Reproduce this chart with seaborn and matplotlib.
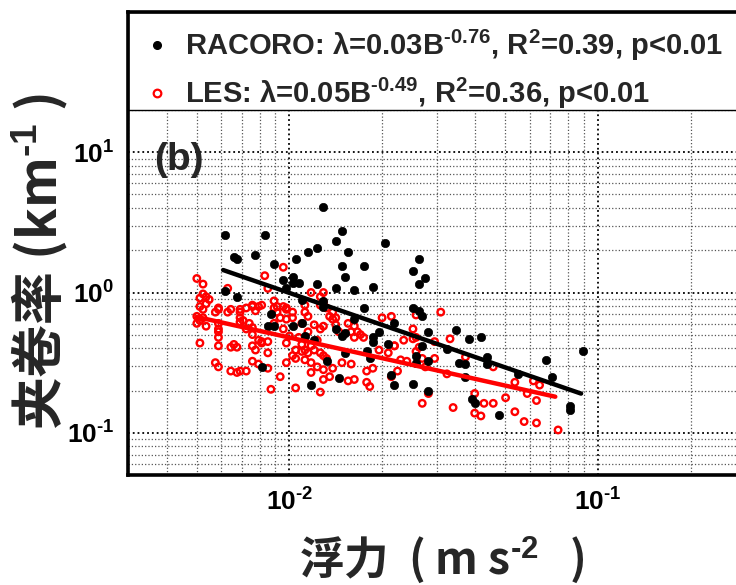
import numpy as np
import pandas as pd
import matplotlib
matplotlib.use("Agg")
import matplotlib.pyplot as plt
import seaborn as sns
from matplotlib.lines import Line2D
from matplotlib.patches import Rectangle
from matplotlib.ticker import LogLocator, NullFormatter

# ---------------- data (log10 of values) ----------------
racoro_log_b = [-1.89, -2.21, -2.08, -1.83, -1.85, -1.91, -1.94, -1.69, -1.81, -2.11,
                -2.18, -2.17, -1.98, -2.05, -1.83, -1.76, -1.58, -1.60, -1.56, -1.58,
                -1.82, -2.02, -1.99, -1.99, -1.97, -2.01, -1.91, -1.85, -1.79, -1.73,
                -2.21, -2.17, -1.96, -1.89, -1.89, -1.76, -1.60, -1.58, -1.57, -2.06,
                -1.79, -2.07, -2.05, -1.99, -1.96, -1.66, -1.85, -1.82, -1.83, -1.71,
                -1.73, -1.73, -1.95, -1.92, -1.68, -1.55, -1.46, -1.42, -1.38, -1.57,
                -1.49, -1.82, -1.75, -1.74, -1.59, -1.59, -1.55, -1.45, -1.43, -1.36,
                -1.36, -1.17, -1.05, -1.26, -1.15, -1.43, -1.88, -2.09, -1.84, -1.93,
                -1.67, -1.66, -1.60, -1.55, -1.41, -1.40, -1.32, -1.09, -1.09]
racoro_log_lam = [0.61, 0.41, 0.41, 0.44, 0.37, 0.32, 0.29, 0.35, 0.29, 0.27,
                  0.25, 0.24, 0.24, 0.20, 0.19, 0.19, 0.24, 0.15, 0.10, 0.06,
                  0.11, 0.09, 0.11, 0.07, 0.07, 0.03, 0.06, 0.03, 0.02, 0.04,
                  0.01, -0.03, -0.05, -0.06, -0.10, -0.11, -0.11, -0.13, -0.17, -0.15,
                  -0.19, -0.24, -0.24, -0.24, -0.22, -0.22, -0.26, -0.29, -0.31, -0.28,
                  -0.32, -0.35, -0.31, -0.34, -0.37, -0.28, -0.27, -0.33, -0.32, -0.38,
                  -0.40, -0.43, -0.42, -0.47, -0.45, -0.50, -0.49, -0.50, -0.51, -0.46,
                  -0.51, -0.48, -0.42, -0.58, -0.60, -0.60, -0.49, -0.53, -0.61, -0.66,
                  -0.59, -0.66, -0.65, -0.70, -0.76, -0.79, -0.87, -0.81, -0.84]

les_log_b = [-2.30, -2.28, -2.29, -2.27, -2.26, -2.29, -2.27, -2.28, -2.30, -2.28,
             -2.30, -2.29, -2.27, -2.29, -2.24, -2.23, -2.23, -2.23, -2.23, -2.23,
             -2.23, -2.24, -2.23, -2.20, -2.19, -2.16, -2.16, -2.16, -2.19, -2.17,
             -2.18, -2.19, -2.17, -2.16, -2.14, -2.14, -2.12, -2.11, -2.10, -2.09,
             -2.15, -2.13, -2.12, -2.14, -2.12, -2.10, -2.09, -2.12, -2.11, -2.09,
             -2.07, -2.07, -2.12, -2.10, -2.07, -2.08, -2.07, -2.05, -2.05, -2.04,
             -2.03, -2.05, -2.06, -2.03, -2.02, -2.02, -2.01, -1.99, -2.01, -1.99,
             -2.02, -2.00, -1.97, -1.96, -1.98, -1.96, -1.95, -1.98, -1.95, -1.94,
             -2.01, -1.99, -2.01, -1.98, -1.93, -1.96, -1.95, -1.94, -1.90, -1.89,
             -1.90, -1.88, -1.86, -1.87, -1.86, -1.85, -1.92, -1.90, -1.89, -1.94,
             -1.91, -1.93, -1.92, -1.90, -1.89, -1.88, -1.93, -1.91, -1.89, -1.87,
             -1.89, -1.90, -1.86, -1.83, -1.85, -1.84, -1.81, -1.79, -1.78, -1.77,
             -1.76, -1.80, -1.79, -1.80, -1.79, -1.81, -1.75, -1.73, -1.75, -1.74,
             -1.71, -1.68, -1.66, -1.65, -1.67, -1.63, -1.64, -1.62, -1.60, -1.59,
             -1.59, -1.59, -1.67, -1.70, -1.66, -1.60, -1.51, -1.57, -1.56, -1.53,
             -1.53, -1.48, -1.49, -1.43, -1.55, -1.57, -1.47, -1.40, -1.40, -1.38,
             -1.37, -1.34, -1.34, -1.30, -1.27, -1.27, -1.24, -1.23, -1.21, -1.19,
             -1.20, -1.20, -1.13, -1.58, -1.93, -2.20, -1.95, -2.28, -2.23, -2.16,
             -2.12, -2.04, -2.01, -1.89]
les_log_lam = [0.10, 0.06, -0.04, -0.03, -0.05, -0.10, -0.08, -0.12, -0.17, -0.18,
               -0.22, -0.20, -0.24, -0.36, -0.14, -0.12, -0.22, -0.26, -0.28, -0.32,
               -0.38, -0.50, -0.53, -0.14, -0.12, -0.14, -0.18, -0.21, -0.39, -0.39,
               -0.37, -0.56, -0.57, -0.56, -0.56, -0.11, -0.10, -0.13, -0.10, -0.09,
               -0.20, -0.22, -0.25, -0.26, -0.30, -0.34, -0.36, -0.38, -0.41, -0.35,
               -0.35, -0.43, -0.49, -0.51, -0.54, 0.12, 0.03, -0.06, -0.11, -0.14,
               -0.18, -0.22, -0.69, -0.60, 0.18, -0.10, -0.12, -0.14, -0.19, -0.18,
               -0.26, -0.31, -0.32, -0.37, -0.41, -0.42, -0.41, -0.47, -0.48, -0.43,
               -0.36, -0.45, -0.50, -0.68, 0.00, -0.22, -0.14, -0.17, -0.03, 0.00,
               -0.09, -0.11, -0.14, -0.17, -0.19, -0.18, -0.23, -0.26, -0.24, -0.28,
               -0.34, -0.38, -0.41, -0.43, -0.45, -0.47, -0.50, -0.53, -0.55, -0.60,
               -0.62, -0.71, -0.54, -0.50, -0.23, -0.28, -0.22, -0.24, -0.28, -0.30,
               -0.32, -0.28, -0.32, -0.51, -0.62, -0.63, -0.56, -0.54, -0.64, -0.67,
               -0.41, -0.43, -0.38, -0.56, -0.60, -0.34, -0.48, -0.49, -0.26, -0.16,
               -0.32, -0.42, -0.17, -0.18, -0.38, -0.33, -0.14, -0.47, -0.53, -0.35,
               -0.47, -0.33, -0.58, -0.46, -0.72, -0.79, -0.82, -0.72, -0.86, -0.88,
               -0.79, -0.79, -0.53, -0.75, -0.85, -0.64, -0.92, -0.72, -0.63, -0.66,
               -0.77, -0.93, -0.98, -0.39, -0.57, 0.03, -0.09, -0.01, -0.11, -0.12,
               -0.09, -0.10, -0.11, -0.07]

# fitted power laws  lambda = a * B^b  and the B range each fit line covers
series_names = ["RACORO", "LES"]
fit_a = [0.03, 0.05]
fit_b = [-0.76, -0.49]
fit_r2 = [0.39, 0.36]
fit_b_range = [(0.0061, 0.088), (0.0050, 0.0726)]
legend_labels = [
    r"RACORO: λ=0.03B$^{\text{-}0.76}$, R$^{2}$=0.39, p<0.01",
    r"LES: λ=0.05B$^{\text{-}0.49}$, R$^{2}$=0.36, p<0.01",
]
x_tick_vals = [1e-2, 1e-1, 1e0]
x_tick_labels = [r"10$^{\text{-}2}$", r"10$^{\text{-}1}$", ""]
y_tick_vals = [1e-1, 1e0, 1e1, 1e2]
y_tick_labels = [r"10$^{\text{-}1}$", r"10$^{0}$", r"10$^{1}$", ""]

# ---------------- style ----------------
sns.set_theme(style="white")
plt.rcParams["font.family"] = ["Liberation Sans", "DejaVu Sans"]
plt.rcParams["mathtext.fontset"] = "custom"
plt.rcParams["mathtext.rm"] = "Liberation Sans:bold"
plt.rcParams["mathtext.bf"] = "Liberation Sans:bold"
plt.rcParams["mathtext.it"] = "Liberation Sans:bold"
plt.rcParams["mathtext.default"] = "rm"

W, H = 736, 585
fig = plt.figure(figsize=(W / 100, H / 100), dpi=100)
ax = fig.add_axes([128 / W, 1 - 475 / H, (907 - 128) / W, (475 - 12) / H])

df_r = pd.DataFrame({"B": 10 ** np.array(racoro_log_b), "lam": 10 ** np.array(racoro_log_lam)})
df_l = pd.DataFrame({"B": 10 ** np.array(les_log_b), "lam": 10 ** np.array(les_log_lam)})

ax.set_xscale("log")
ax.set_yscale("log")

sns.scatterplot(data=df_r, x="B", y="lam", ax=ax, color="black", s=36,
                edgecolor="black", linewidth=0.5, zorder=3, legend=False)
sns.scatterplot(data=df_l, x="B", y="lam", ax=ax, s=22, marker="o",
                edgecolor="#ff0000", linewidth=1.7, zorder=2, legend=False)
ax.collections[-1].set_facecolor("none")

line_colors = ["black", "#ff0000"]
for a, b, (b0, b1), c in zip(fit_a, fit_b, fit_b_range, line_colors):
    xs = np.geomspace(b0, b1, 60)
    fit_df = pd.DataFrame({"B": xs, "lam": a * xs ** b})
    sns.lineplot(data=fit_df, x="B", y="lam", ax=ax, color=c, lw=3.2, zorder=4)

ax.set_xlim(3e-3, 1)
ax.set_ylim(5e-2, 1e2)

ax.set_xticks(x_tick_vals, x_tick_labels)
ax.set_yticks(y_tick_vals, y_tick_labels)
ax.xaxis.set_minor_locator(LogLocator(base=10, subs=np.arange(2, 10)))
ax.yaxis.set_minor_locator(LogLocator(base=10, subs=np.arange(2, 10)))
ax.xaxis.set_minor_formatter(NullFormatter())
ax.yaxis.set_minor_formatter(NullFormatter())
for t in ax.get_xticklabels() + ax.get_yticklabels():
    t.set_fontweight("bold")

ax.grid(True, which="major", ls=":", color="black", lw=1.3)
ax.grid(True, which="minor", ls=":", color="#555555", lw=0.9)
ax.set_axisbelow(True)

ax.tick_params(which="both", direction="in", top=True, right=True, colors="black")
ax.tick_params(which="major", length=7, width=1.6, labelsize=19, pad=10)
ax.tick_params(which="minor", length=4, width=1.0)
for sp in ax.spines.values():
    sp.set_visible(True)
    sp.set_linewidth(2.6)
    sp.set_color("black")
    sp.set_zorder(12)

ax.set_xlabel(r"浮力  ( m s$^{\text{-}2}$   )", family=["Noto Sans CJK SC", "DejaVu Sans"],
              fontsize=32, weight="bold", va="center")
ax.xaxis.set_label_coords(0.403, -0.184)
ax.set_ylabel(r"夹卷率 (km$^{\text{-}1}$ )", family=["Noto Sans CJK SC", "DejaVu Sans"],
              fontsize=38, weight="bold", va="center", ha="center")
ax.yaxis.set_label_coords(-0.113, 0.462)

ax.text(0.034, 0.68, "(b)", transform=ax.transAxes, fontsize=28, weight="bold",
        ha="left", va="center")

# legend box across the top of the axes
leg_bottom = (475 - 110) / (475 - 12)
ax.add_patch(Rectangle((0, leg_bottom), 1, 1 - leg_bottom, transform=ax.transAxes,
                       facecolor="white", edgecolor="black", lw=1.0, zorder=8, clip_on=False))
handles = [
    Line2D([], [], ls="", marker="o", color="black", markersize=5.5),
    Line2D([], [], ls="", marker="o", mfc="none", mec="#ff0000", mew=1.6, markersize=5.5),
]
leg = ax.legend(handles, legend_labels, loc="upper left",
                bbox_to_anchor=(0, 1 - 4 / 463), borderaxespad=0, frameon=False,
                prop={"size": 21, "weight": "bold"},
                handlelength=1.2, handletextpad=0.35, borderpad=0.4, labelspacing=0.45)
leg.set_zorder(10)

fig.savefig("out.png", dpi=100)
